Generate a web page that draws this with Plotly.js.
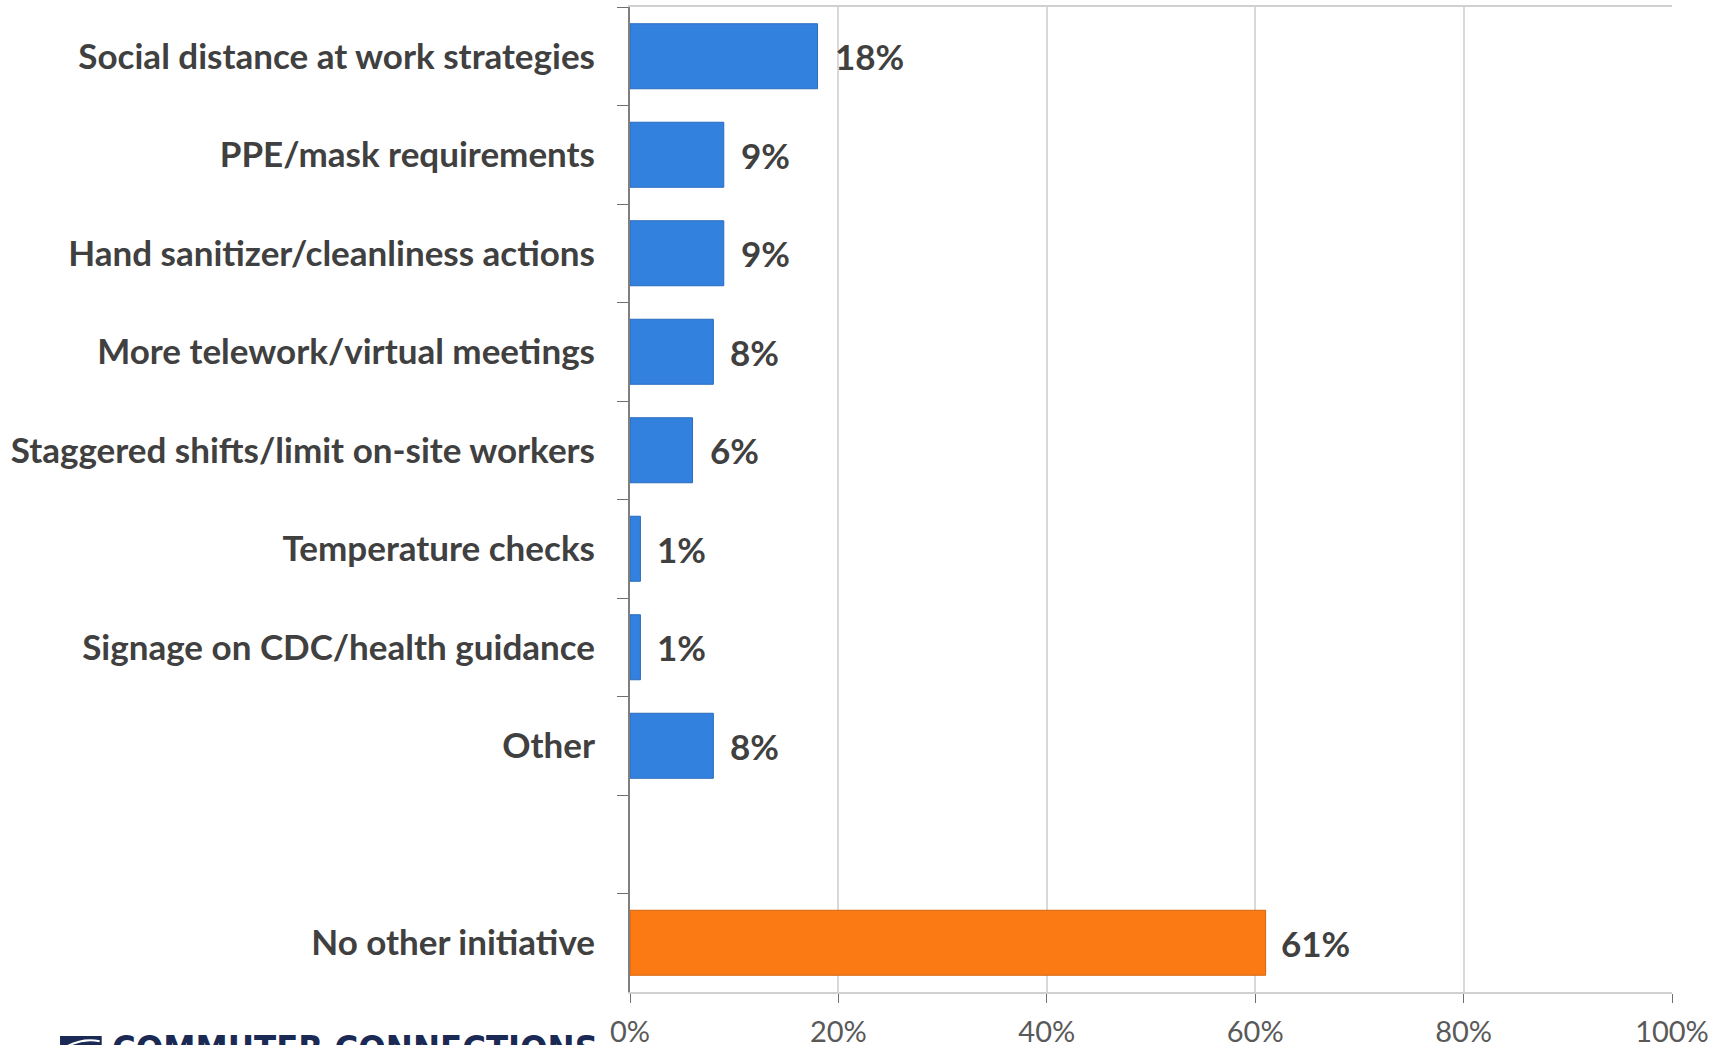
<!DOCTYPE html>
<html>
<head>
<meta charset="utf-8">
<script src="https://cdn.plot.ly/plotly-3.0.1.min.js"></script>
<style>
html,body{margin:0;padding:0;background:#fff;overflow:hidden;}
#chart{width:1734px;height:1045px;}
</style>
</head>
<body>
<div id="chart"></div>
<script>
// ---- data ----
const categories = [
  "Social distance at work strategies",
  "PPE/mask requirements",
  "Hand sanitizer/cleanliness actions",
  "More telework/virtual meetings",
  "Staggered shifts/limit on-site workers",
  "Temperature checks",
  "Signage on CDC/health guidance",
  "Other"
];
const values = [18, 9, 9, 8, 6, 1, 1, 8];
const spacerCategory = " ";
const noneCategory = "No other initiative";
const noneValue = 61;
const xTickValues = [0, 20, 40, 60, 80, 100];
const xTickLabels = ["0%", "20%", "40%", "60%", "80%", "100%"];
const logoText = "COMMUTER CONNECTIONS";

// ---- build ----
const allCats = categories.concat([spacerCategory, noneCategory]);
const labelFont = {family: "Lato, 'Open Sans', sans-serif", size: 35, color: "#404040", weight: 700};

const blue = {
  type: "bar", orientation: "h",
  y: categories, x: values,
  width: 0.66,
  marker: {color: "#3381df", line: {color: "#2a6cbd", width: 1}},
  hoverinfo: "x+y", showlegend: false
};
const orange = {
  type: "bar", orientation: "h",
  y: [noneCategory], x: [noneValue],
  width: 0.66,
  marker: {color: "#fb7a13", line: {color: "#d4650c", width: 1}},
  hoverinfo: "x+y", showlegend: false
};

const annotations = [];
categories.forEach((c, i) => annotations.push({
  x: values[i], y: c, xref: "x", yref: "y", text: values[i] + "%",
  showarrow: false, xanchor: "left", yanchor: "middle", xshift: 15,
  font: labelFont
}));
annotations.push({
  x: noneValue, y: noneCategory, xref: "x", yref: "y", text: noneValue + "%",
  showarrow: false, xanchor: "left", yanchor: "middle", xshift: 13,
  font: labelFont
});
// cut-off logo at the bottom left
annotations.push({
  xref: "paper", yref: "paper", x: -0.499, y: -0.035,
  xanchor: "left", yanchor: "top", showarrow: false,
  text: logoText,
  font: {family: "'DejaVu Sans Condensed', 'DejaVu Sans', sans-serif", size: 36, color: "#1b2a55", weight: 700}
});

const layout = {
  width: 1734, height: 1045,
  margin: {l: 630, r: 62, t: 7, b: 53},
  paper_bgcolor: "#ffffff", plot_bgcolor: "#ffffff",
  barmode: "overlay",
  xaxis: {
    range: [0, 100], tickmode: "array", tickvals: xTickValues, ticktext: xTickLabels,
    showgrid: true, gridcolor: "#d9d9d9", gridwidth: 2,
    showline: true, linecolor: "#d0d0d0", linewidth: 2, mirror: true,
    ticks: "outside", ticklen: 9, tickcolor: "#6f6f6f", tickwidth: 1,
    ticklabelstandoff: 4,
    tickfont: {family: "Lato, 'Open Sans', sans-serif", size: 29, color: "#595959"},
    zeroline: false, fixedrange: true
  },
  yaxis: {
    type: "category", categoryorder: "array", categoryarray: allCats,
    autorange: "reversed",
    showline: true, linecolor: "#7f7f7f", linewidth: 2,
    ticks: "outside", tickson: "boundaries", ticklen: 11, tickcolor: "#6f6f6f", tickwidth: 1,
    ticklabelstandoff: 26,
    showgrid: false, zeroline: false,
    tickfont: labelFont, fixedrange: true
  },
  annotations: annotations,
  shapes: [
    {type: "rect", xref: "paper", yref: "paper", x0: -0.547, x1: -0.507, y0: -0.0447, y1: -0.07,
     fillcolor: "#1b2a55", line: {width: 0}},
    {type: "path", xref: "paper", yref: "paper",
     path: "M -0.545 -0.058 Q -0.527 -0.046 -0.509 -0.050",
     line: {color: "#ffffff", width: 2}},
    {type: "path", xref: "paper", yref: "paper",
     path: "M -0.545 -0.066 Q -0.527 -0.052 -0.509 -0.056",
     line: {color: "#ffffff", width: 2}}
  ],
  font: {family: "Lato, sans-serif"}
};

Plotly.newPlot("chart", [blue, orange], layout, {displayModeBar: false, staticPlot: true});
</script>
</body>
</html>
